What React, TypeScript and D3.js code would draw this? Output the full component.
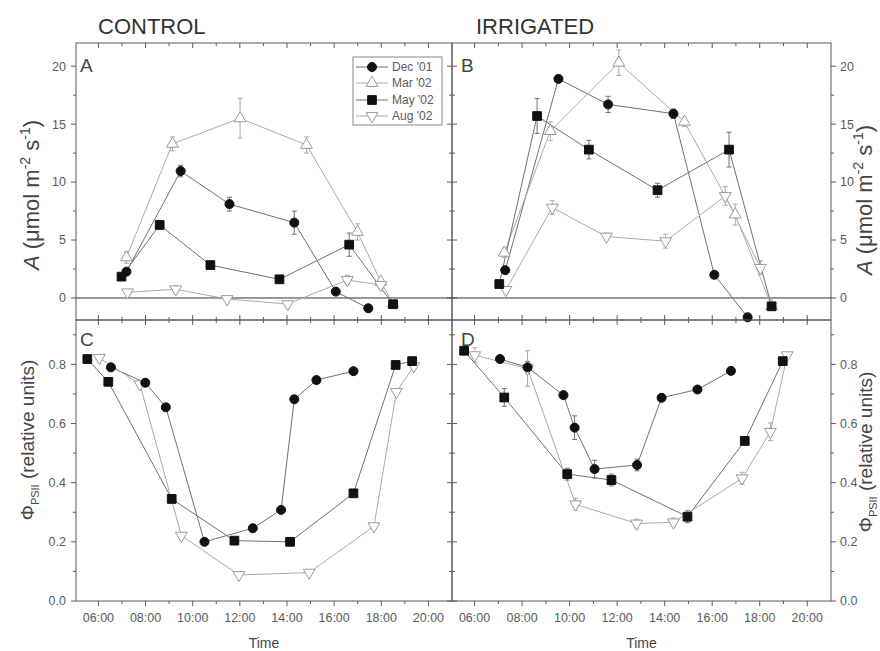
import { useEffect } from "react";
import * as d3 from "d3";

// [hour of day, value, error]
type Pt = [number, number, number];

const hourTicks = [6, 8, 10, 12, 14, 16, 18, 20];
const hourLabels = ["06:00", "08:00", "10:00", "12:00", "14:00", "16:00", "18:00", "20:00"];
const hourMinor = [7, 9, 11, 13, 15, 17, 19];
const aTicks = [0, 5, 10, 15, 20];
const aMinor = [2.5, 7.5, 12.5, 17.5];
const phiTicks = [0, 0.2, 0.4, 0.6, 0.8];
const phiMinor = [0.1, 0.3, 0.5, 0.7, 0.9];
const seriesNames = ["Dec '01", "Mar '02", "May '02", "Aug '02"];
const columnTitles = ["CONTROL", "IRRIGATED"];
const panelLetters = ["A", "B", "C", "D"];

// A : control, net assimilation
const aDec: Pt[] = [[7.19, 2.27, 0.3], [9.49, 10.95, 0.5], [11.56, 8.1, 0.6], [14.31, 6.5, 1.0], [16.07, 0.55, 0], [17.45, -0.89, 0]];
const aMar: Pt[] = [[7.19, 3.5, 0.5], [9.14, 13.3, 0.6], [12.01, 15.5, 1.7], [14.83, 13.2, 0.7], [16.99, 5.7, 0.7], [17.98, 1.4, 0.3], [18.5, -0.5, 0]];
const aMay: Pt[] = [[6.98, 1.84, 0], [8.6, 6.3, 0], [10.75, 2.84, 0], [13.68, 1.61, 0], [16.64, 4.6, 1.0], [18.5, -0.54, 0]];
const aAug: Pt[] = [[7.24, 0.49, 0], [9.28, 0.75, 0.3], [11.46, -0.09, 0], [14.03, -0.52, 0.3], [16.56, 1.55, 0.4], [17.98, 1.12, 0.3]];

// B : irrigated, net assimilation
const bDec: Pt[] = [[7.29, 2.4, 0], [9.53, 18.9, 0], [11.62, 16.7, 0.7], [14.37, 15.9, 0.4], [16.09, 2.0, 0], [17.49, -1.66, 0]];
const bMar: Pt[] = [[7.25, 3.9, 0.4], [9.19, 14.4, 0.8], [12.07, 20.3, 1.1], [14.83, 15.2, 0.4], [16.97, 7.2, 0.9], [18.5, -0.7, 0]];
const bMay: Pt[] = [[7.04, 1.2, 0], [8.63, 15.7, 1.5], [10.81, 12.8, 0.8], [13.7, 9.3, 0.6], [16.71, 12.8, 1.5], [18.5, -0.72, 0]];
const bAug: Pt[] = [[7.32, 0.7, 0.3], [9.27, 7.8, 0.6], [11.55, 5.3, 0.3], [14.04, 4.9, 0.6], [16.55, 8.8, 0.8], [18.03, 2.6, 0.6]];

// C : control, PSII efficiency
const cDec: Pt[] = [[6.53, 0.79, 0], [7.99, 0.738, 0], [8.86, 0.655, 0], [10.5, 0.2, 0], [12.55, 0.246, 0], [13.75, 0.308, 0], [14.31, 0.682, 0], [15.25, 0.747, 0], [16.82, 0.777, 0]];
const cMay: Pt[] = [[5.53, 0.818, 0], [6.42, 0.741, 0], [9.11, 0.345, 0], [11.77, 0.204, 0], [14.13, 0.2, 0], [16.82, 0.364, 0], [18.61, 0.798, 0], [19.31, 0.811, 0]];
const cAug: Pt[] = [[6.04, 0.822, 0], [7.76, 0.733, 0], [9.52, 0.221, 0], [11.96, 0.088, 0], [14.94, 0.096, 0], [17.69, 0.253, 0], [18.64, 0.707, 0], [19.38, 0.794, 0]];

// D : irrigated, PSII efficiency
const dDec: Pt[] = [[7.07, 0.818, 0], [8.23, 0.79, 0.02], [9.74, 0.696, 0], [10.21, 0.586, 0.04], [11.05, 0.446, 0.03], [12.84, 0.46, 0.02], [13.87, 0.687, 0], [15.38, 0.715, 0], [16.79, 0.778, 0]];
const dMay: Pt[] = [[5.56, 0.846, 0], [7.25, 0.688, 0.03], [9.9, 0.429, 0.02], [11.76, 0.409, 0.02], [14.96, 0.285, 0.02], [17.37, 0.541, 0], [18.97, 0.811, 0]];
const dAug: Pt[] = [[6.01, 0.831, 0.025], [8.23, 0.786, 0.06], [10.25, 0.327, 0.02], [12.82, 0.262, 0.015], [14.37, 0.266, 0.015], [17.26, 0.415, 0.02], [18.45, 0.572, 0.03], [19.16, 0.831, 0]];

const FONT = "'Liberation Sans', Arial, sans-serif";
const TXT = "#5a5a5a";
const AX = "#5a5a5a";

// style per series: Dec, Mar, May, Aug
const styles = [
  { sym: d3.symbolCircle, size: 64, fill: "#111", stroke: "#111", line: "#707070", rot: 0 },
  { sym: d3.symbolTriangle, size: 60, fill: "#fff", stroke: "#9a9a9a", line: "#aaaaaa", rot: 0 },
  { sym: d3.symbolSquare, size: 76, fill: "#111", stroke: "#111", line: "#707070", rot: 0 },
  { sym: d3.symbolTriangle, size: 60, fill: "#fff", stroke: "#9a9a9a", line: "#aaaaaa", rot: 180 },
];

const x0L = 76, xMid = 452, x1R = 831;
const yTop = 43, yMid = 320, yBot = 601;
const hourDomain: [number, number] = [5.05, 21];

function Marker({ s, x, y }: { s: number; x: number; y: number }) {
  const st = styles[s];
  const path = d3.symbol().type(st.sym).size(st.size)() || "";
  return (
    <path d={path} transform={`translate(${x},${y}) rotate(${st.rot})`}
      fill={st.fill} stroke={st.stroke} strokeWidth={1} />
  );
}

function Panel({ left, top, series, idx }: { left: boolean; top: boolean; series: (Pt[] | null)[]; idx: number }) {
  const px0 = left ? x0L : xMid;
  const px1 = left ? xMid : x1R;
  const py0 = top ? yTop : yMid;
  const py1 = top ? yMid : yBot;
  const x = d3.scaleLinear().domain(hourDomain).range([px0, px1]);
  const y = top
    ? d3.scaleLinear().domain([-1.9, 22]).range([py1, py0])
    : d3.scaleLinear().domain([0, 0.95]).range([py1, py0]);
  const line = d3.line<Pt>().x((d) => x(d[0])).y((d) => y(d[1]));
  const yt = top ? aTicks : phiTicks;
  const ym = top ? aMinor : phiMinor;
  const fmt = top ? d3.format("d") : d3.format(".1f");

  // x ticks: top of A/B inward, shared middle both ways, bottom outward
  const xTickLines = (v: number, len: number) => {
    const xx = x(v);
    return [
      <line key={`t${v}`} x1={xx} x2={xx} y1={py0} y2={py0 + len} />,
      <line key={`b${v}`} x1={xx} x2={xx} y1={py1} y2={top ? py1 - len : py1 + len} />,
    ];
  };
  const yTickLines = (v: number, len: number) => {
    const yy = y(v);
    const dir = left ? -1 : 1;
    return [
      <line key={`l${v}`} x1={px0} x2={px0 + dir * len} y1={yy} y2={yy} />,
      <line key={`r${v}`} x1={px1} x2={px1 + dir * len} y1={yy} y2={yy} />,
    ];
  };

  return (
    <g>
      <g stroke={AX} strokeWidth={1}>
        {hourTicks.flatMap((v) => xTickLines(v, 5))}
        {hourMinor.flatMap((v) => xTickLines(v, 3))}
        {yt.flatMap((v) => yTickLines(v, 5))}
        {ym.flatMap((v) => yTickLines(v, 3))}
        <rect x={px0} y={py0} width={px1 - px0} height={py1 - py0} fill="none" />
      </g>
      {top && <line x1={px0} x2={px1} y1={y(0)} y2={y(0)} stroke="#333" strokeWidth={1} />}
      <g fontFamily={FONT} fontSize={12.5} fill={TXT}>
        {yt.map((v) => (
          <text key={v} x={left ? px0 - 10 : px1 + 9} y={y(v)} dy="0.35em" textAnchor={left ? "end" : "start"}>
            {fmt(v)}
          </text>
        ))}
        {!top && hourTicks.map((v, i) => (
          <text key={v} x={x(v)} y={py1 + 21} textAnchor="middle">{hourLabels[i]}</text>
        ))}
      </g>
      {!top && (
        <text x={(px0 + px1) / 2} y={py1 + 47} textAnchor="middle" fontFamily={FONT} fontSize={14} fill="#444">Time</text>
      )}
      <text x={px0 + (left ? 4 : 9)} y={py0 + (top ? 29 : 26)} fontFamily={FONT} fontSize={19} fill="#444">
        {panelLetters[idx]}
      </text>
      {series.map((d, s) => d && (
        <path key={`l${s}`} d={line(d) || ""} fill="none" stroke={styles[s].line} strokeWidth={1} />
      ))}
      {series.map((d, s) => d && (
        <g key={`e${s}`} stroke={styles[s].line} strokeWidth={1}>
          {d.filter((p) => p[2] > 0).map((p, i) => (
            <g key={i}>
              <line x1={x(p[0])} x2={x(p[0])} y1={y(p[1] - p[2])} y2={y(p[1] + p[2])} />
              <line x1={x(p[0]) - 2.5} x2={x(p[0]) + 2.5} y1={y(p[1] - p[2])} y2={y(p[1] - p[2])} />
              <line x1={x(p[0]) - 2.5} x2={x(p[0]) + 2.5} y1={y(p[1] + p[2])} y2={y(p[1] + p[2])} />
            </g>
          ))}
        </g>
      ))}
      {[1, 3, 0, 2].map((s) => series[s] && (
        <g key={`m${s}`}>
          {series[s]!.map((p, i) => <Marker key={i} s={s} x={x(p[0])} y={y(p[1])} />)}
        </g>
      ))}
    </g>
  );
}

function ATitle({ x, y }: { x: number; y: number }) {
  return (
    <text transform={`translate(${x},${y}) rotate(-90)`} textAnchor="middle" fontFamily={FONT} fontSize={22} fill="#444" dy="0.35em">
      <tspan fontStyle="italic">A</tspan>
      <tspan> (μmol m</tspan>
      <tspan fontSize={14} dy="-9">-2</tspan>
      <tspan dy="9"> s</tspan>
      <tspan fontSize={14} dy="-9">-1</tspan>
      <tspan dy="9">)</tspan>
    </text>
  );
}

function PhiTitle({ x, y }: { x: number; y: number }) {
  return (
    <text transform={`translate(${x},${y}) rotate(-90)`} textAnchor="middle" fontFamily={FONT} fontSize={19} fill="#444" dy="0.35em">
      <tspan>Φ</tspan>
      <tspan fontSize={11} dy="5">PSII</tspan>
      <tspan dy="-5"> (relative units)</tspan>
    </text>
  );
}

export default function App() {
  useEffect(() => {
    document.body.style.margin = "0";
  }, []);

  const legendY = [67, 83, 100, 116];

  return (
    <svg width={880} height={651} style={{ display: "block", background: "#fff" }}>
      <text x={98} y={34} fontFamily={FONT} fontSize={22} fill="#333">{columnTitles[0]}</text>
      <text x={476} y={34} fontFamily={FONT} fontSize={22} fill="#333">{columnTitles[1]}</text>

      <Panel left top idx={0} series={[aDec, aMar, aMay, aAug]} />
      <Panel left={false} top idx={1} series={[bDec, bMar, bMay, bAug]} />
      <Panel left top={false} idx={2} series={[cDec, null, cMay, cAug]} />
      <Panel left={false} top={false} idx={3} series={[dDec, null, dMay, dAug]} />

      <ATitle x={31} y={195} />
      <ATitle x={864} y={200} />
      <PhiTitle x={27} y={440} />
      <PhiTitle x={865} y={452} />

      <g>
        <rect x={353} y={57} width={89} height={68} fill="#fff" stroke="#888" strokeWidth={1} />
        {seriesNames.map((n, i) => (
          <g key={n}>
            <line x1={356} x2={388} y1={legendY[i]} y2={legendY[i]} stroke={styles[i].line} strokeWidth={1} />
            <Marker s={i} x={372} y={legendY[i]} />
            <text x={392} y={legendY[i]} dy="0.35em" fontFamily={FONT} fontSize={12} fill={TXT}>{n}</text>
          </g>
        ))}
      </g>
    </svg>
  );
}
